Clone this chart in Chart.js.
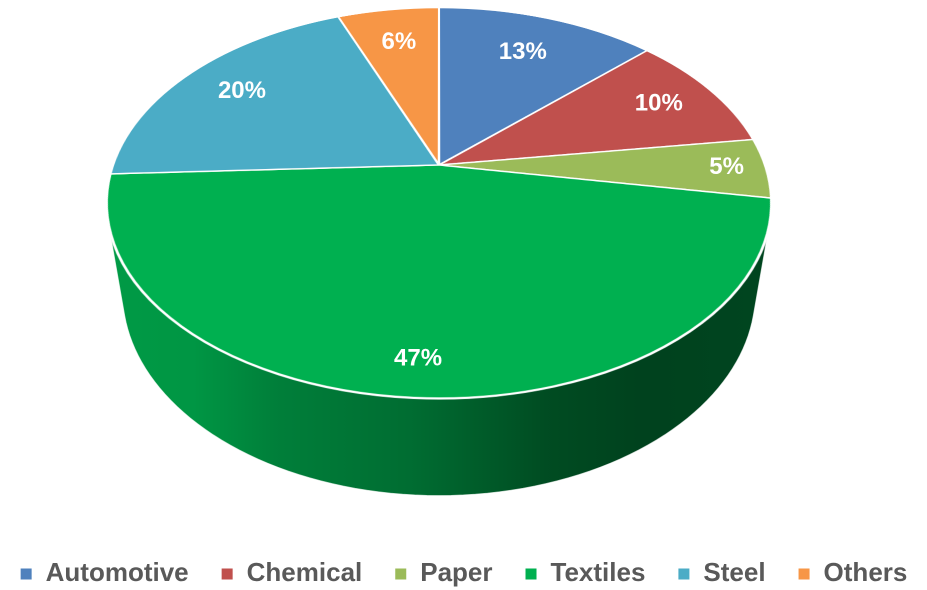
<!DOCTYPE html>
<html>
<head>
<meta charset="utf-8">
<script src="https://cdn.jsdelivr.net/npm/chart.js@4.4.0/dist/chart.umd.min.js"></script>
<style>
  html, body { margin: 0; padding: 0; background: #fff; }
  #wrap { width: 927px; height: 590px; }
</style>
</head>
<body>
<div id="wrap"><canvas id="chart" width="927" height="590"></canvas></div>
<script>
var categories = ['Automotive', 'Chemical', 'Paper', 'Textiles', 'Steel', 'Others'];
var shares = [13, 10, 5, 47, 20, 6];
var sliceColors = ['#4f81bd', '#c0504d', '#9bbb59', '#00b050', '#4bacc6', '#f79646'];

// camera used to tilt the flat pie into a 3d disc (fitted by eye)
var view = { cx: 439, cy: 165, tilt: 35.2, dist: 4.19, focal: 1366, depth: 0.354 };
var labelRadius = [0.74, 0.8, 0.88, 0.86, 0.78, 0.76];
var labelFont = '"Liberation Sans", Arial, sans-serif';

var sinT = Math.sin(view.tilt * Math.PI / 180);
var cosT = Math.cos(view.tilt * Math.PI / 180);

// u right, v toward viewer, h up (radius = 1)
function project(u, v, h) {
    var z = view.dist - v * cosT - h * sinT;
    return { x: view.cx + view.focal * u / z, y: view.cy + view.focal * (v * sinT - h * cosT) / z };
}

// screen row of the top face -> v
function rowToV(y) {
    var d = y - view.cy;
    return d * view.dist / (view.focal * sinT + d * cosT);
}

function shade(hex, k) {
    var n = parseInt(hex.slice(1), 16);
    var r = Math.round(((n >> 16) & 255) * k), g = Math.round(((n >> 8) & 255) * k), b = Math.round((n & 255) * k);
    return 'rgb(' + r + ',' + g + ',' + b + ')';
}

var sideStops = [[0, 0.88], [0.14, 0.85], [0.26, 0.72], [0.46, 0.62], [0.66, 0.43], [0.8, 0.375], [1, 0.4]];

function drawSide(ctx, arcs) {
    var vmin = 1 / (view.dist * cosT);
    var lo = Math.asin(Math.min(vmin, 1)), hi = Math.PI - lo;
    var left = project(-1, 0.2, 0).x, right = project(1, 0.2, 0).x;
    arcs.forEach(function(arc, i) {
        var s = Math.max(arc.startAngle, lo), e = Math.min(arc.endAngle, hi);
        if (e <= s) return;
        var steps = 80, a, p;
        ctx.beginPath();
        for (var j = 0; j <= steps; j++) {
            a = s + (e - s) * j / steps;
            p = project(Math.cos(a), Math.sin(a), 0);
            if (j === 0) ctx.moveTo(p.x, p.y); else ctx.lineTo(p.x, p.y);
        }
        for (j = steps; j >= 0; j--) {
            a = s + (e - s) * j / steps;
            p = project(Math.cos(a), Math.sin(a), -view.depth);
            ctx.lineTo(p.x, p.y);
        }
        ctx.closePath();
        var grad = ctx.createLinearGradient(left, 0, right, 0);
        sideStops.forEach(function(st) { grad.addColorStop(st[0], shade(sliceColors[i], st[1])); });
        ctx.fillStyle = grad;
        ctx.fill();
        ctx.strokeStyle = 'rgba(255,255,255,0.7)';
        ctx.lineWidth = 1;
        ctx.stroke();
    });
}

var pie3d = {
    id: 'pie3d',
    afterDatasetsDraw: function(chart) {
        var arcs = chart.getDatasetMeta(0).data;
        var ctx = chart.ctx, dpr = chart.currentDevicePixelRatio;
        var r = arcs[0].outerRadius, ox = arcs[0].x, oy = arcs[0].y, m = 3;
        var size = Math.round((r + m) * 2 * dpr);

        // take the flat pie Chart.js just drew and lay it down in perspective
        var off = document.createElement('canvas');
        off.width = size; off.height = size;
        off.getContext('2d').drawImage(chart.canvas, (ox - r - m) * dpr, (oy - r - m) * dpr, size, size, 0, 0, size, size);

        ctx.save();
        ctx.setTransform(1, 0, 0, 1, 0, 0);
        ctx.clearRect((ox - r - m) * dpr, (oy - r - m) * dpr, size, size);
        ctx.setTransform(dpr, 0, 0, dpr, 0, 0);
        drawSide(ctx, arcs);

        ctx.setTransform(1, 0, 0, 1, 0, 0);
        ctx.imageSmoothingEnabled = true;
        ctx.imageSmoothingQuality = 'high';
        var half = (r + m) / r;
        var yTop = project(0, -half, 0).y, yBot = project(0, half, 0).y;
        for (var yd = Math.floor(yTop * dpr); yd < Math.ceil(yBot * dpr); yd++) {
            var v0 = rowToV(yd / dpr), v1 = rowToV((yd + 1) / dpr), vm = rowToV((yd + 0.5) / dpr);
            var sy0 = Math.max(0, (r + m + v0 * r) * dpr), sy1 = Math.min(size, (r + m + v1 * r) * dpr);
            if (sy1 <= sy0) continue;
            var k = view.focal / (view.dist - vm * cosT);
            ctx.drawImage(off, 0, sy0, size, sy1 - sy0, (view.cx - k * half) * dpr, yd, 2 * k * half * dpr, 1);
        }
        ctx.restore();

        // percentage labels
        ctx.save();
        ctx.fillStyle = '#fff';
        ctx.font = 'bold 24px ' + labelFont;
        ctx.textAlign = 'center';
        ctx.textBaseline = 'middle';
        arcs.forEach(function(arc, i) {
            var mid = (arc.startAngle + arc.endAngle) / 2, f = labelRadius[i];
            var p = project(f * Math.cos(mid), f * Math.sin(mid), 0);
            ctx.fillText(shares[i] + '%', p.x, p.y);
        });
        ctx.restore();
    }
};

new Chart(document.getElementById('chart'), {
    type: 'pie',
    data: {
        labels: categories,
        datasets: [{
            data: shares,
            backgroundColor: sliceColors,
            borderColor: '#fff',
            borderWidth: 2
        }]
    },
    options: {
        responsive: false,
        animation: false,
        devicePixelRatio: 2,
        events: [],
        layout: { padding: { top: 4, bottom: -7, left: -20, right: -20 } },
        plugins: {
            legend: {
                position: 'bottom',
                labels: {
                    boxWidth: 13,
                    boxHeight: 13,
                    padding: 32,
                    color: '#595959',
                    font: { family: labelFont, size: 26, weight: 'bold' }
                }
            },
            tooltip: { enabled: false }
        }
    },
    plugins: [pie3d]
});
</script>
</body>
</html>
